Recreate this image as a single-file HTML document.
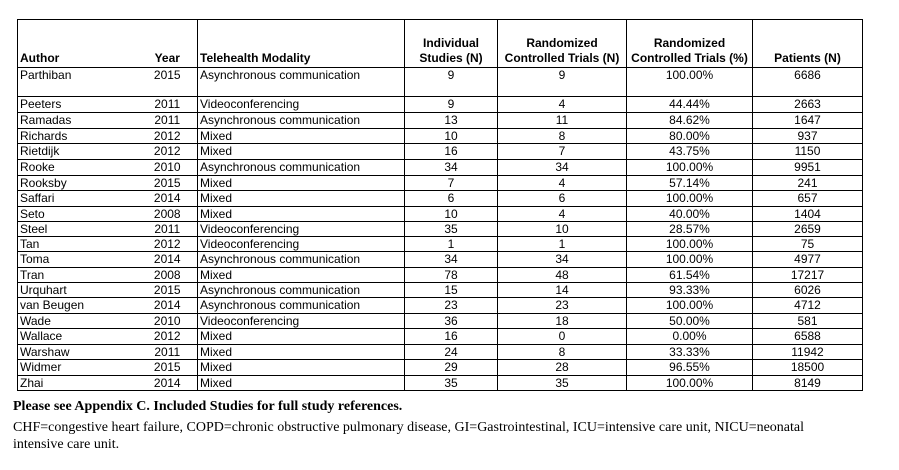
<!DOCTYPE html>
<html><head><style>
body{margin:0;background:#fff;width:899px;height:470px;position:relative;overflow:hidden}
table{position:absolute;left:17px;top:19px;border-collapse:collapse;font-family:"Liberation Sans",Arial,sans-serif;font-size:12px;color:#000;table-layout:fixed}
td{border:1px solid #000;padding:0 2px;line-height:15px;white-space:nowrap;overflow:hidden}
tr.s td{line-height:14px}
td.a{border-right:none}
td.y{border-left:none;text-align:center;padding-left:8px}
td.c{text-align:center}
tr.h td{font-weight:bold;height:46px;vertical-align:bottom;padding-bottom:1px;line-height:15px}
tr.p td{height:28px;vertical-align:top;line-height:14px}
.n{position:absolute;left:13px;font-family:"Liberation Serif","Times New Roman",serif;color:#000}
</style></head><body>
<table>
<colgroup><col style="width:114px"><col style="width:66px"><col style="width:207px"><col style="width:93px"><col style="width:129px"><col style="width:126px"><col style="width:110px"></colgroup>
<tr class="h"><td class="a">Author</td><td class="y">Year</td><td>Telehealth Modality</td><td class="c">Individual<br>Studies (N)</td><td class="c">Randomized<br>Controlled Trials (N)</td><td class="c">Randomized<br>Controlled Trials (%)</td><td class="c">Patients (N)</td></tr>
<tr class="p"><td class="a">Parthiban</td><td class="y">2015</td><td>Asynchronous communication</td><td class="c">9</td><td class="c">9</td><td class="c">100.00%</td><td class="c">6686</td></tr>
<tr><td class="a">Peeters</td><td class="y">2011</td><td>Videoconferencing</td><td class="c">9</td><td class="c">4</td><td class="c">44.44%</td><td class="c">2663</td></tr>
<tr><td class="a">Ramadas</td><td class="y">2011</td><td>Asynchronous communication</td><td class="c">13</td><td class="c">11</td><td class="c">84.62%</td><td class="c">1647</td></tr>
<tr class="s"><td class="a">Richards</td><td class="y">2012</td><td>Mixed</td><td class="c">10</td><td class="c">8</td><td class="c">80.00%</td><td class="c">937</td></tr>
<tr><td class="a">Rietdijk</td><td class="y">2012</td><td>Mixed</td><td class="c">16</td><td class="c">7</td><td class="c">43.75%</td><td class="c">1150</td></tr>
<tr><td class="a">Rooke</td><td class="y">2010</td><td>Asynchronous communication</td><td class="c">34</td><td class="c">34</td><td class="c">100.00%</td><td class="c">9951</td></tr>
<tr class="s"><td class="a">Rooksby</td><td class="y">2015</td><td>Mixed</td><td class="c">7</td><td class="c">4</td><td class="c">57.14%</td><td class="c">241</td></tr>
<tr><td class="a">Saffari</td><td class="y">2014</td><td>Mixed</td><td class="c">6</td><td class="c">6</td><td class="c">100.00%</td><td class="c">657</td></tr>
<tr class="s"><td class="a">Seto</td><td class="y">2008</td><td>Mixed</td><td class="c">10</td><td class="c">4</td><td class="c">40.00%</td><td class="c">1404</td></tr>
<tr class="s"><td class="a">Steel</td><td class="y">2011</td><td>Videoconferencing</td><td class="c">35</td><td class="c">10</td><td class="c">28.57%</td><td class="c">2659</td></tr>
<tr class="s"><td class="a">Tan</td><td class="y">2012</td><td>Videoconferencing</td><td class="c">1</td><td class="c">1</td><td class="c">100.00%</td><td class="c">75</td></tr>
<tr><td class="a">Toma</td><td class="y">2014</td><td>Asynchronous communication</td><td class="c">34</td><td class="c">34</td><td class="c">100.00%</td><td class="c">4977</td></tr>
<tr class="s"><td class="a">Tran</td><td class="y">2008</td><td>Mixed</td><td class="c">78</td><td class="c">48</td><td class="c">61.54%</td><td class="c">17217</td></tr>
<tr class="s"><td class="a">Urquhart</td><td class="y">2015</td><td>Asynchronous communication</td><td class="c">15</td><td class="c">14</td><td class="c">93.33%</td><td class="c">6026</td></tr>
<tr><td class="a">van Beugen</td><td class="y">2014</td><td>Asynchronous communication</td><td class="c">23</td><td class="c">23</td><td class="c">100.00%</td><td class="c">4712</td></tr>
<tr class="s"><td class="a">Wade</td><td class="y">2010</td><td>Videoconferencing</td><td class="c">36</td><td class="c">18</td><td class="c">50.00%</td><td class="c">581</td></tr>
<tr><td class="a">Wallace</td><td class="y">2012</td><td>Mixed</td><td class="c">16</td><td class="c">0</td><td class="c">0.00%</td><td class="c">6588</td></tr>
<tr class="s"><td class="a">Warshaw</td><td class="y">2011</td><td>Mixed</td><td class="c">24</td><td class="c">8</td><td class="c">33.33%</td><td class="c">11942</td></tr>
<tr><td class="a">Widmer</td><td class="y">2015</td><td>Mixed</td><td class="c">29</td><td class="c">28</td><td class="c">96.55%</td><td class="c">18500</td></tr>
<tr class="s"><td class="a">Zhai</td><td class="y">2014</td><td>Mixed</td><td class="c">35</td><td class="c">35</td><td class="c">100.00%</td><td class="c">8149</td></tr>
</table>
<div class="n" style="top:399px;font-weight:bold;font-size:14px">Please see Appendix C. Included Studies for full study references.</div>
<div class="n" style="top:419px;font-size:14px;line-height:17px;width:860px">CHF=congestive heart failure, COPD=chronic obstructive pulmonary disease, GI=Gastrointestinal, ICU=intensive care unit, NICU=neonatal<br>intensive care unit.</div>
</body></html>
